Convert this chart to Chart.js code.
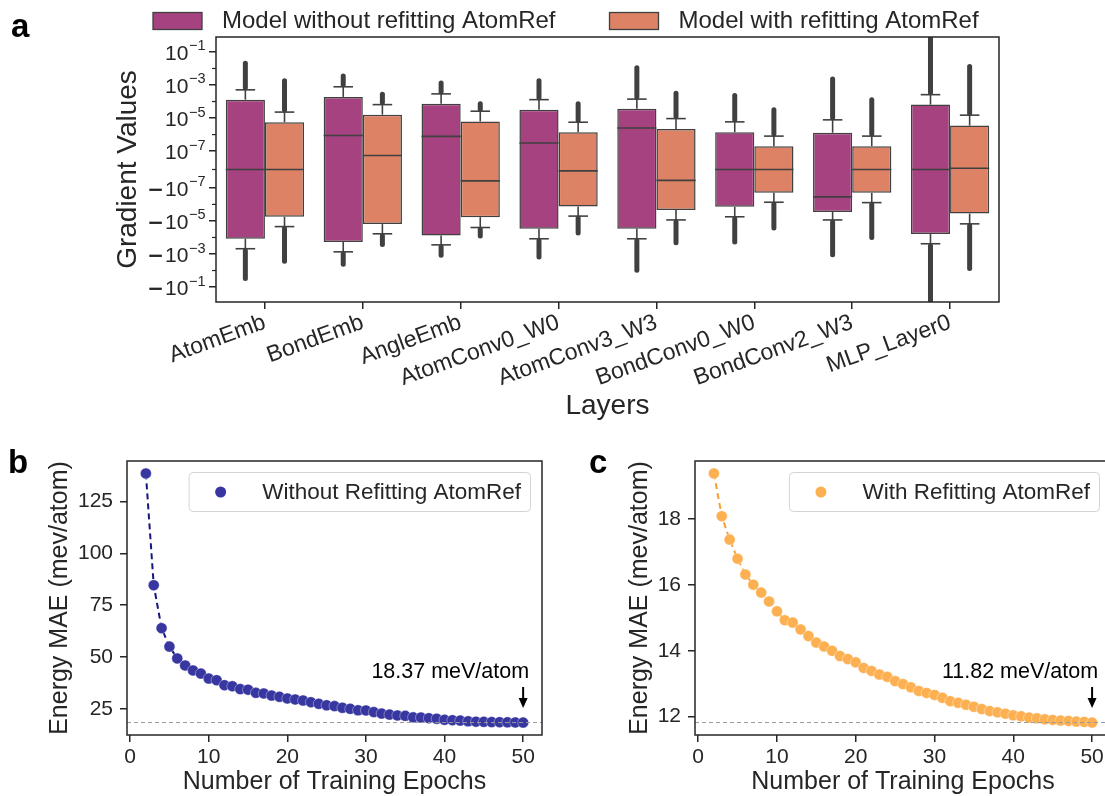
<!DOCTYPE html>
<html>
<head>
<meta charset="utf-8">
<script src="https://cdn.jsdelivr.net/npm/chart.js@4.4.1/dist/chart.umd.min.js"></script>
<style>
  html, body { margin: 0; padding: 0; background: #fff; width: 1105px; height: 796px; overflow: hidden; position: relative; }
  canvas { position: absolute; }
  #chartA { left: 0; top: 0; }
  #chartB { left: 0; top: 430px; }
  #chartC { left: 560px; top: 430px; }
  .panel { position: absolute; font: bold 33px 'Liberation Sans', Arial, sans-serif; color: #000; }
</style>
</head>
<body>
<canvas id="chartA" width="1105" height="430"></canvas>
<canvas id="chartB" width="560" height="374"></canvas>
<canvas id="chartC" width="560" height="374"></canvas>
<div class="panel" style="left:11px;top:7px">a</div>
<div class="panel" style="left:8px;top:443px">b</div>
<div class="panel" style="left:589px;top:443px">c</div>
<script>
// ---- panel a: gradient distributions per layer ----
const layers = ['AtomEmb', 'BondEmb', 'AngleEmb', 'AtomConv0_W0', 'AtomConv3_W3', 'BondConv0_W0', 'BondConv2_W3', 'MLP_Layer0'];

// model without refitting AtomRef
const noRefitMin      = [-3.0e-2, -4.2e-3, -1.2e-3, -1.5e-3, -9.5e-3, -1.9e-4, -1.1e-3, -0.75];
const noRefitWhiskLo  = [-4.8e-4, -7.4e-4, -2.8e-4, -1.2e-4, -1.2e-4, -5.6e-6, -8.7e-6, -2.4e-4];
const noRefitQ1       = [-1.2e-4, -1.9e-4, -7.5e-5, -3.0e-5, -3.0e-5, -1.4e-6, -2.9e-6, -6.1e-5];
const noRefitMedian   = [0, 8.9e-7, 7.8e-7, 3.1e-7, 2.5e-6, 0, -3.5e-7, 0];
const noRefitQ3       = [1.3e-4, 1.9e-4, 7.4e-5, 3.2e-5, 3.7e-5, 1.4e-6, 1.3e-6, 6.5e-5];
const noRefitWhiskHi  = [5.1e-4, 7.8e-4, 2.9e-4, 1.3e-4, 1.4e-4, 5.9e-6, 7.8e-6, 2.6e-4];
const noRefitMax      = [2.1e-2, 3.5e-3, 1.3e-3, 1.8e-3, 1.1e-2, 2.3e-4, 2.3e-3, 0.75];

// model with refitting AtomRef
const refitMin     = [-2.7e-3, -2.7e-4, -8.1e-5, -5.4e-5, -2.1e-4, -2.7e-5, -1.0e-4, -7.6e-3];
const refitWhiskLo = [-2.2e-5, -6.0e-5, -2.5e-5, -5.1e-6, -8.7e-6, -7.4e-7, -7.8e-7, -1.5e-5];
const refitQ1      = [-5.6e-6, -1.55e-5, -5.9e-6, -1.35e-6, -2.2e-6, -2.0e-7, -2.0e-7, -3.6e-6];
const refitMedian  = [0, 7.6e-8, -6.2e-8, -7.6e-9, -5.9e-8, 0, 0, 7e-9];
const refitQ3      = [5.6e-6, 1.6e-5, 6.2e-6, 1.4e-6, 2.2e-6, 1.95e-7, 2.0e-7, 3.5e-6];
const refitWhiskHi = [2.3e-5, 6.5e-5, 2.6e-5, 5.6e-6, 9.3e-6, 8.1e-7, 8.1e-7, 1.5e-5];
const refitMax     = [1.8e-3, 2.8e-4, 7.4e-5, 7.4e-5, 3.2e-4, 3.2e-5, 1.3e-4, 1.3e-2];

const gradLimit = 0.8;
const yMajorTicks = [-1e-1, -1e-3, -1e-5, -1e-7, 1e-7, 1e-5, 1e-3, 1e-1];
const yMinorTicks = [-1e-2, -1e-4, -1e-6, 0, 1e-6, 1e-4, 1e-2];

// ---- panels b, c: energy MAE vs epochs ----
const epochs = [2, 3, 4, 5, 6, 7, 8, 9, 10, 11, 12, 13, 14, 15, 16, 17, 18, 19, 20, 21, 22, 23, 24, 25, 26,
                27, 28, 29, 30, 31, 32, 33, 34, 35, 36, 37, 38, 39, 40, 41, 42, 43, 44, 45, 46, 47, 48, 49, 50];
const maeWithout = [138.5, 84.6, 63.9, 55.0, 49.3, 45.9, 43.5, 42.0, 39.6, 38.8, 36.4, 35.9, 34.5, 34.2, 32.7,
                    32.4, 31.4, 30.8, 30.0, 29.5, 29.0, 28.2, 27.4, 26.7, 26.3, 25.5, 25.0, 24.3, 24.2, 23.4,
                    22.7, 22.2, 21.8, 21.6, 20.9, 20.8, 20.5, 20.2, 19.7, 19.5, 19.3, 19.0, 18.8, 18.7, 18.6,
                    18.55, 18.5, 18.45, 18.37];
const maeWith = [19.39, 18.09, 17.38, 16.80, 16.32, 16.01, 15.77, 15.50, 15.20, 14.93, 14.86, 14.65, 14.45,
                 14.25, 14.13, 14.00, 13.84, 13.75, 13.65, 13.48, 13.39, 13.28, 13.21, 13.08, 12.99, 12.89,
                 12.78, 12.72, 12.66, 12.57, 12.47, 12.42, 12.36, 12.30, 12.23, 12.17, 12.13, 12.09, 12.04,
                 12.01, 11.97, 11.95, 11.92, 11.90, 11.88, 11.87, 11.85, 11.84, 11.82];
const epochTicks = [0, 10, 20, 30, 40, 50];
const maeTicksB = [25, 50, 75, 100, 125];
const maeTicksC = [12, 14, 16, 18];

const FONT = "'Liberation Sans', Arial, 'DejaVu Sans', sans-serif";
const INK = '#262626';
const EDGE = '#404040';
const PURPLE = '#a5427f';
const ORANGE = '#dd8264';

Chart.defaults.font.family = FONT;
Chart.defaults.color = INK;
Chart.defaults.animation = false;

// symmetric log, linthresh 1e-7, linscale 1 (same as matplotlib symlog)
const LINTHRESH = 1e-7;
const LINSCALE = 1 / (1 - 1 / 10);
function symlog(v) {
  const a = Math.abs(v);
  if (a <= LINTHRESH) return v / LINTHRESH * LINSCALE;
  return Math.sign(v) * (Math.log10(a / LINTHRESH) + LINSCALE);
}

function line(ctx, x1, y1, x2, y2) {
  ctx.beginPath();
  ctx.moveTo(x1, y1);
  ctx.lineTo(x2, y2);
  ctx.stroke();
}

const frame = {
  id: 'frame',
  afterDraw(chart) {
    const a = chart.chartArea, ctx = chart.ctx;
    ctx.save();
    ctx.strokeStyle = INK;
    ctx.lineWidth = 1.5;
    ctx.strokeRect(a.left, a.top, a.right - a.left, a.bottom - a.top);
    ctx.restore();
  }
};

// whiskers, outlier bands and medians on top of the floating bars
const boxExtras = {
  id: 'boxExtras',
  afterDatasetsDraw(chart) {
    const {ctx, chartArea, scales: {y}} = chart;
    const py = v => y.getPixelForValue(symlog(v));
    ctx.save();
    ctx.beginPath();
    ctx.rect(chartArea.left, chartArea.top, chartArea.right - chartArea.left, chartArea.bottom - chartArea.top);
    ctx.clip();
    ctx.strokeStyle = EDGE;
    chart.data.datasets.forEach((ds, di) => {
      const st = ds.stats;
      chart.getDatasetMeta(di).data.forEach((bar, i) => {
        const x = bar.x, w = bar.width;
        ctx.lineCap = 'round';
        ctx.lineWidth = 5;
        line(ctx, x, py(st.whiskHi[i]) - 2, x, py(st.max[i]));
        line(ctx, x, py(st.whiskLo[i]) + 2, x, py(st.min[i]));
        ctx.lineCap = 'butt';
        ctx.lineWidth = 1.6;
        line(ctx, x, py(st.q3[i]), x, py(st.whiskHi[i]));
        line(ctx, x, py(st.q1[i]), x, py(st.whiskLo[i]));
        line(ctx, x - w / 4, py(st.whiskHi[i]), x + w / 4, py(st.whiskHi[i]));
        line(ctx, x - w / 4, py(st.whiskLo[i]), x + w / 4, py(st.whiskLo[i]));
        line(ctx, x - w / 2, py(st.median[i]), x + w / 2, py(st.median[i]));
      });
    });
    ctx.restore();
  }
};

// symlog axis: minor ticks and the 10^n labels written with a raised exponent
const symlogAxis = {
  id: 'symlogAxis',
  afterDraw(chart) {
    const y = chart.scales.y, ctx = chart.ctx, left = chart.chartArea.left;
    ctx.save();
    ctx.strokeStyle = INK;
    ctx.lineWidth = 1.2;
    yMinorTicks.forEach(v => {
      const p = y.getPixelForValue(symlog(v));
      line(ctx, left - 4, p, left, p);
    });
    ctx.fillStyle = INK;
    ctx.textBaseline = 'alphabetic';
    ctx.textAlign = 'left';
    yMajorTicks.forEach(v => {
      const p = y.getPixelForValue(symlog(v));
      const exp = '\u2212' + Math.abs(Math.round(Math.log10(Math.abs(v))));
      ctx.font = '14.5px ' + FONT;
      const we = ctx.measureText(exp).width;
      ctx.font = '21px ' + FONT;
      const wb = ctx.measureText('10').width;
      ctx.font = 'bold 20px "DejaVu Sans", sans-serif';
      const sign = v < 0 ? '\u2212' : '';
      const ws = sign ? ctx.measureText(sign).width + 1 : 0;
      let x = left - 7 - 4 - we - wb - ws;
      const base = p + 8;
      if (sign) { ctx.fillText(sign, x, base); x += ws; }
      ctx.font = '21px ' + FONT;
      ctx.fillText('10', x, base);
      ctx.font = '14.5px ' + FONT;
      ctx.fillText(exp, x + wb + 0.5, base - 9.5);
    });
    ctx.restore();
  }
};

const topLegend = {
  id: 'topLegend',
  afterDraw(chart) {
    const ctx = chart.ctx;
    const xs = [153, 609.5];
    ctx.save();
    ctx.font = '24px ' + FONT;
    ctx.textBaseline = 'middle';
    chart.data.datasets.forEach((ds, i) => {
      ctx.fillStyle = ds.backgroundColor;
      ctx.fillRect(xs[i], 12.5, 49, 17);
      ctx.strokeStyle = EDGE;
      ctx.lineWidth = 1.3;
      ctx.strokeRect(xs[i], 12.5, 49, 17);
      ctx.fillStyle = INK;
      ctx.fillText(ds.label, xs[i] + 69, 21.5);
    });
    ctx.restore();
  }
};

const noRefitStats = {min: noRefitMin, whiskLo: noRefitWhiskLo, q1: noRefitQ1, median: noRefitMedian,
                      q3: noRefitQ3, whiskHi: noRefitWhiskHi, max: noRefitMax};
const refitStats = {min: refitMin, whiskLo: refitWhiskLo, q1: refitQ1, median: refitMedian,
                    q3: refitQ3, whiskHi: refitWhiskHi, max: refitMax};
const boxRange = st => st.q1.map((q, i) => [symlog(q), symlog(st.q3[i])]);

const tickGrid = {display: true, drawOnChartArea: false, tickLength: 7, color: INK, lineWidth: 1.5};

new Chart(document.getElementById('chartA'), {
  type: 'bar',
  data: {
    labels: layers,
    datasets: [
      {label: 'Model without refitting AtomRef', data: boxRange(noRefitStats), stats: noRefitStats,
       backgroundColor: PURPLE, borderColor: EDGE, borderWidth: 1.5, borderSkipped: false},
      {label: 'Model with refitting AtomRef', data: boxRange(refitStats), stats: refitStats,
       backgroundColor: ORANGE, borderColor: EDGE, borderWidth: 1.5, borderSkipped: false}
    ]
  },
  options: {
    responsive: false,
    layout: {padding: {left: 107, top: 37, right: 106, bottom: 3}},
    datasets: {bar: {categoryPercentage: 0.8, barPercentage: 1.0}},
    plugins: {legend: {display: false}, tooltip: {enabled: false}},
    scales: {
      x: {
        grid: Object.assign({offset: false}, tickGrid),
        border: {display: false},
        ticks: {minRotation: 20, maxRotation: 20, autoSkip: false, font: {size: 23}, padding: 0},
        title: {display: true, text: 'Layers', font: {size: 28}, padding: {top: 4, bottom: 4}},
        afterFit: s => { s.height = 125; }
      },
      y: {
        min: symlog(-gradLimit),
        max: symlog(gradLimit),
        afterBuildTicks: s => { s.ticks = yMajorTicks.map(v => ({value: symlog(v)})); },
        grid: tickGrid,
        border: {display: false},
        ticks: {display: false},
        title: {display: true, text: 'Gradient Values', font: {size: 28}, padding: {top: 4, bottom: 4}},
        afterFit: s => { s.width = 109; }
      }
    }
  },
  plugins: [boxExtras, symlogAxis, topLegend, frame]
});

// final-value line, legend box and the arrow note
const curveExtras = {
  id: 'curveExtras',
  afterDraw(chart) {
    const {ctx, chartArea: a, scales: {x, y}} = chart;
    const ds = chart.data.datasets[0];
    const last = ds.data[ds.data.length - 1];
    ctx.save();
    // dashed reference at the final value
    ctx.strokeStyle = '#9a9a9a';
    ctx.lineWidth = 1;
    ctx.setLineDash([4, 3]);
    line(ctx, a.left, y.getPixelForValue(last.y), a.right, y.getPixelForValue(last.y));
    ctx.setLineDash([]);
    // legend box
    ctx.font = '22.5px ' + FONT;
    const tw = ctx.measureText(ds.label).width;
    const bw = 73 + tw + 9.5, bh = 39;
    const bx = a.right - 11.5 - bw, by = a.top + 11.5;
    ctx.beginPath();
    ctx.roundRect(bx, by, bw, bh, 4);
    ctx.fillStyle = 'rgba(255,255,255,0.85)';
    ctx.fill();
    ctx.strokeStyle = '#d4d4d4';
    ctx.lineWidth = 1;
    ctx.stroke();
    ctx.beginPath();
    ctx.arc(bx + 31.5, by + bh / 2, 5.5, 0, Math.PI * 2);
    ctx.fillStyle = ds.pointBackgroundColor;
    ctx.fill();
    ctx.fillStyle = INK;
    ctx.textBaseline = 'middle';
    ctx.fillText(ds.label, bx + 73, by + bh / 2 + 1);
    // note with arrow at the last epoch
    const ax = x.getPixelForValue(last.x);
    ctx.fillStyle = '#000';
    ctx.font = '21.5px ' + FONT;
    ctx.textAlign = 'right';
    ctx.textBaseline = 'alphabetic';
    ctx.fillText(last.y.toFixed(2) + ' meV/atom', ax + 6, a.bottom - 57);
    ctx.strokeStyle = '#000';
    ctx.lineWidth = 2;
    line(ctx, ax, a.bottom - 48, ax, a.bottom - 35);
    ctx.beginPath();
    ctx.moveTo(ax - 4.5, a.bottom - 37);
    ctx.lineTo(ax + 4.5, a.bottom - 37);
    ctx.lineTo(ax, a.bottom - 27);
    ctx.closePath();
    ctx.fill();
    ctx.restore();
  }
};

function curveChart(id, values, yTicks, pointColor, lineColor, label, pad, yWidth) {
  const lo = Math.min(...values), hi = Math.max(...values), m = (hi - lo) * 0.05;
  const e0 = Math.min(...epochs), e1 = Math.max(...epochs), em = (e1 - e0) * 0.05;
  return new Chart(document.getElementById(id), {
    type: 'line',
    data: {
      datasets: [{
        label: label,
        data: epochs.map((e, i) => ({x: e, y: values[i]})),
        borderColor: lineColor,
        borderWidth: 2,
        borderDash: [6, 4],
        pointRadius: 5.5,
        pointBackgroundColor: pointColor,
        pointBorderColor: 'rgba(255,255,255,0.45)',
        pointBorderWidth: 0.8,
        tension: 0
      }]
    },
    options: {
      responsive: false,
      layout: {padding: pad},
      plugins: {legend: {display: false}, tooltip: {enabled: false}},
      scales: {
        x: {
          type: 'linear',
          min: e0 - em,
          max: e1 + em,
          afterBuildTicks: s => { s.ticks = epochTicks.map(v => ({value: v})); },
          grid: tickGrid,
          border: {display: false},
          ticks: {font: {size: 21}, padding: 3},
          title: {display: true, text: 'Number of Training Epochs', font: {size: 25}, padding: {top: 4, bottom: 4}},
          afterFit: s => { s.height = 66; }
        },
        y: {
          min: lo - m,
          max: hi + m,
          afterBuildTicks: s => { s.ticks = yTicks.map(v => ({value: v})); },
          grid: tickGrid,
          border: {display: false},
          ticks: {font: {size: 21}, padding: 7},
          title: {display: true, text: 'Energy MAE (mev/atom)', font: {size: 25}, padding: {top: 4, bottom: 4}},
          afterFit: s => { s.width = yWidth; }
        }
      }
    },
    plugins: [curveExtras, frame]
  });
}

curveChart('chartB', maeWithout, maeTicksB, '#3837a1', '#16167f', 'Without Refitting AtomRef',
           {left: 41, top: 31, right: 18, bottom: 3}, 86);
curveChart('chartC', maeWith, maeTicksC, '#fdb052', '#f59e36', 'With Refitting AtomRef',
           {left: 61, top: 31, right: 9, bottom: 3}, 74);
</script>
</body>
</html>
